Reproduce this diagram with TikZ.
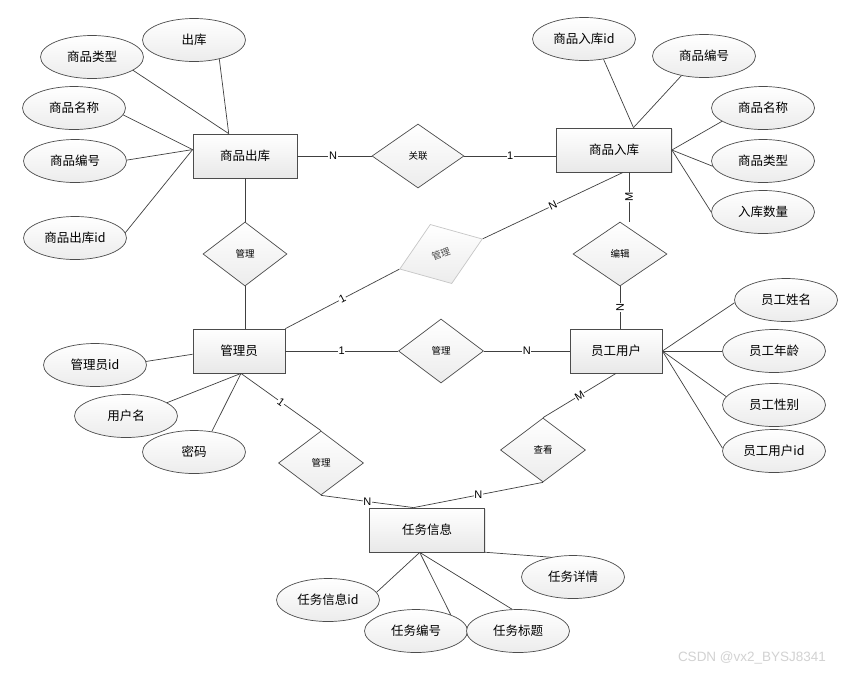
\documentclass[tikz,border=0pt]{standalone}
\usepackage{fontspec}
\setmainfont{Liberation Sans}
\newfontfamily\cjk{Noto Sans CJK SC}
\usetikzlibrary{shapes.geometric,shadows}

\tikzset{
  entity/.style={rectangle, draw=gray!60!black, line width=0.8pt,
    top color=white, bottom color=gray!18, minimum height=44pt, inner sep=0pt,
    font=\cjk\fontsize{12.5}{14}\selectfont,
    drop shadow={shadow xshift=1.2pt, shadow yshift=-1.2pt, fill=gray!35}},
  attrib/.style={ellipse, draw=gray!60!black, line width=0.7pt,
    top color=white, bottom color=gray!15, minimum width=103pt,
    minimum height=43pt, inner sep=0pt, font=\cjk\fontsize{12.5}{14}\selectfont},
  rel/.style={diamond, draw=gray!60!black, line width=0.7pt,
    top color=white, bottom color=gray!15, minimum width=85pt,
    minimum height=64pt, inner sep=0pt, font=\cjk\fontsize{9.5}{11}\selectfont},
  link/.style={draw=gray!50!black, line width=0.7pt},
  card/.style={fill=white, inner sep=0.6pt, font=\fontsize{11}{12}\selectfont},
}

\begin{document}
\begin{tikzpicture}[x=1pt, y=-1pt]
    \useasboundingbox[fill=white] (0,0) rectangle (848,673);

    % Entities
    \node[entity, minimum width=104pt] (ck) at (245,156) {商品出库};
    \node[entity, minimum width=115pt] (rk) at (614,150) {商品入库};
    \node[entity, minimum width=92pt] (gl) at (239,351) {管理员};
    \node[entity, minimum width=92pt] (yg) at (616,351) {员工用户};
    \node[entity, minimum width=115pt] (rw) at (427,530) {任务信息};

    % Relations
    \node[rel, minimum width=92pt] (gx) at (418,156) {关联};
    \node[rel, minimum width=84pt] (gla) at (245,254) {管理};
    \node[rel, minimum width=94pt] (bj) at (620,254) {编辑};
    \node[rel] (glb) at (441,351) {管理};
    \node[rel] (glc) at (321,463) {管理};
    \node[rel] (ckk) at (543,450) {查看};
    \node[rel, minimum width=88pt, minimum height=63pt, rotate=20,
          draw=gray!45, text=gray!60!black] (gld) at (441,254) {管理};

    % Attributes of 商品出库
    \foreach \n/\x/\y/\txt/\src/\dst in {
        ck1/194/40/出库/323/126, ck2/92/57/商品类型/342/126,
        ck3/74/108/商品名称/352/173, ck4/75/161/商品编号/1/173,
        ck5/75/238/商品出库id/6/173} {
        \node[attrib] (\n) at (\x,\y) {\txt};
        \draw[link] (\n.\src) -- (ck.\dst);
    }

    % Attributes of 商品入库
    \foreach \n/\x/\y/\txt/\src/\dst in {
        rk1/584/39/商品入库id/314/49, rk2/704/56/商品编号/221/49,
        rk3/763/108/商品名称/198/0, rk4/763/161/商品类型/186/0,
        rk5/763/212/入库数量/180/0} {
        \node[attrib] (\n) at (\x,\y) {\txt};
        \draw[link] (\n.\src) -- (rk.\dst);
    }

    % Attributes of 管理员
    \foreach \n/\x/\y/\txt/\src/\dst in {
        gl1/95/365/管理员id/4/184, gl2/126/416/用户名/18/275,
        gl3/194/452/密码/49/275} {
        \node[attrib] (\n) at (\x,\y) {\txt};
        \draw[link] (\n.\src) -- (gl.\dst);
    }

    % Attributes of 员工用户
    \foreach \n/\x/\y/\txt/\src/\dst in {
        yg1/786/300/员工姓名/183/0, yg2/774/351/员工年龄/180/0,
        yg3/774/405/员工性别/170/0, yg4/774/451/员工用户id/177/0} {
        \node[attrib] (\n) at (\x,\y) {\txt};
        \draw[link] (\n.\src) -- (yg.\dst);
    }

    % Attributes of 任务信息
    \foreach \n/\x/\y/\txt/\src/\dst in {
        rw1/328/600/任务信息id/9/252, rw2/416/631/任务编号/25/252,
        rw3/518/631/任务标题/105/252, rw4/573/577/任务详情/138/339} {
        \node[attrib] (\n) at (\x,\y) {\txt};
        \draw[link] (\n.\src) -- (rw.\dst);
    }

    % Relation links with cardinalities
    \draw[link] (ck.east) -- node[card, pos=0.48] {N} (gx.west);
    \draw[link] (gx.east) -- node[card] {1} (gx.east -| rk.west);
    \draw[link] (ck.south) -- (gla.north);
    \draw[link] (gla.south) -- (gla.south |- gl.north);
    \draw[link] (rk.304) -- node[card, rotate=90] {M} (rk.304 |- bj.north);
    \draw[link] (bj.south) -- node[card, rotate=90] {N} (bj.south |- yg.north);
    \draw[link] (gl.north east) -- node[card, sloped] {1} (gld.west);
    \draw[link] (gld.east) -- node[card, sloped] {N} (rk.292);
    \draw[link] (gl.east) -- node[card] {1} (glb.west);
    \draw[link] (glb.east) -- node[card] {N} (yg.west);
    \draw[link] (gl.275) -- node[card, sloped] {1} (glc.north);
    \draw[link] (glc.south) -- node[card] {N} (rw.121);
    \draw[link] (ckk.south) -- node[card] {N} (rw.121);
    \draw[link] (yg.south) -- node[card, sloped] {M} (ckk.north);

    % Watermark
    \node[text=gray!35, font=\fontsize{13.5}{15}\selectfont] (wm) at (752,658) {CSDN @vx2\_BYSJ8341};
\end{tikzpicture}
\end{document}
